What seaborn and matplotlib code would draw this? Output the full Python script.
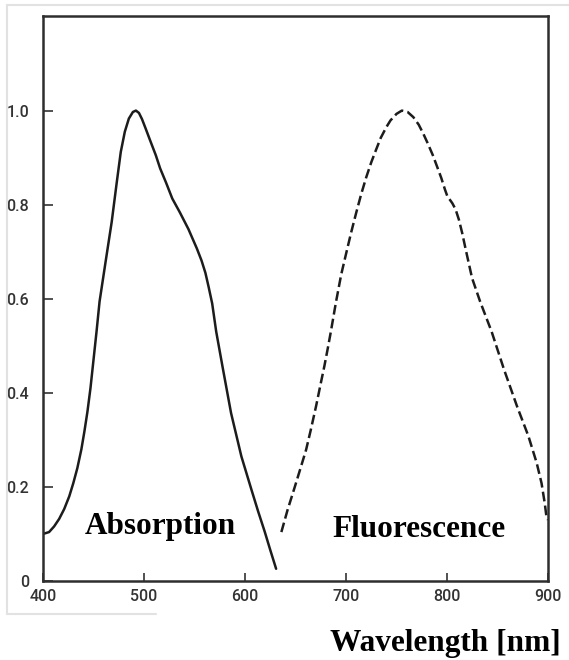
import matplotlib
matplotlib.use("Agg")
import matplotlib.pyplot as plt
import seaborn as sns
import pandas as pd
from matplotlib.lines import Line2D

# ---- data ----
abs_wavelength = [400, 406, 411, 416, 421, 426, 430, 434, 438, 441, 444, 447, 449.5, 453,
                  456, 462, 468, 473, 477, 481, 485, 489, 492, 495, 498, 501.6, 506,
                  511.7, 516, 521.8, 528, 535.4, 544, 552.3, 557, 560.8, 564, 567.5,
                  571.5, 577.8, 586.2, 596.4, 606.4, 613, 619.5, 625, 630.8]
abs_values = [0.10, 0.104, 0.116, 0.132, 0.153, 0.18, 0.208, 0.24, 0.28, 0.318, 0.36,
              0.41, 0.46, 0.53, 0.594, 0.679, 0.763, 0.847, 0.912, 0.955, 0.983, 0.997,
              1.0, 0.995, 0.982, 0.962, 0.937, 0.905, 0.877, 0.847, 0.813, 0.784, 0.748,
              0.707, 0.681, 0.655, 0.625, 0.590, 0.530, 0.455, 0.357, 0.265, 0.194,
              0.148, 0.105, 0.066, 0.026]

fl_wavelength = [636, 642, 649, 655, 660.5, 665, 670.4, 675, 678.6, 682, 685, 690, 695.2,
                 700, 705, 710, 715, 720, 725, 730, 734.4, 740, 744, 750, 755.3, 761,
                 766.7, 772, 776.5, 781, 786, 790, 794.3, 798, 800.5, 803, 805.3, 808.5,
                 811.8, 815, 818.3, 824.8, 832.8, 844.2, 856.4, 869.4, 880.6, 888.8,
                 893.6, 896.8, 898.5, 900]
fl_values = [0.104, 0.15, 0.198, 0.24, 0.279, 0.32, 0.372, 0.42, 0.457, 0.495, 0.53,
             0.592, 0.651, 0.695, 0.74, 0.782, 0.822, 0.858, 0.89, 0.918, 0.942, 0.965,
             0.979, 0.993, 1.0, 0.997, 0.986, 0.97, 0.951, 0.93, 0.905, 0.882, 0.857,
             0.832, 0.817, 0.81, 0.803, 0.79, 0.768, 0.74, 0.707, 0.644, 0.594, 0.53,
             0.45, 0.371, 0.308, 0.251, 0.208, 0.165, 0.136, 0.13]

x_ticks = [400, 500, 600, 700, 800, 900]
x_tick_labels = ["400", "500", "600", "700", "800", "900"]
y_ticks = [0, 0.2, 0.4, 0.6, 0.8, 1.0]
y_tick_labels = ["0", "0.2", "0.4", "0.6", "0.8", "1.0"]

labels = ["Absorption", "Fluorescence"]
x_label = "Wavelength [nm]"

# ---- figure ----
sns.set_theme(style="white")
plt.rcParams["font.family"] = ["DejaVu Sans"]

fig = plt.figure(figsize=(5.69, 6.60), dpi=100)
ax = fig.add_axes([43 / 569, 79 / 660, (548 - 43) / 569, (581 - 16.5) / 660])

line_color = "#1c1c1c"
df_abs = pd.DataFrame({"wl": abs_wavelength, "val": abs_values})
df_fl = pd.DataFrame({"wl": fl_wavelength, "val": fl_values})

sns.lineplot(data=df_abs, x="wl", y="val", ax=ax, color=line_color, linewidth=1.8,
             estimator=None, sort=False)
sns.lineplot(data=df_fl, x="wl", y="val", ax=ax, color=line_color, linewidth=1.8,
             estimator=None, sort=False)
ax.lines[-1].set_dashes((3.9, 1.7))
for ln in ax.lines:
    ln.set_solid_joinstyle("round")
    ln.set_dash_joinstyle("round")

ax.set_xlim(400, 900)
ax.set_ylim(0, 1.2)
ax.set_xticks(x_ticks)
ax.set_xticklabels(x_tick_labels)
ax.set_yticks(y_ticks)
ax.set_yticklabels(y_tick_labels)
ax.set_xlabel("")
ax.set_ylabel("")

for lab in ax.get_xticklabels() + ax.get_yticklabels():
    lab.set_fontfamily("Roboto")
    lab.set_fontsize(11.5)
    lab.set_fontweight("medium")
    lab.set_color("#333333")

ax.tick_params(axis="x", direction="in", length=6, width=1.2, color="#333333", pad=6,
               bottom=True, top=False)
ax.tick_params(axis="y", direction="in", length=7, width=1.2, color="#333333", pad=10,
               left=True, right=False)

for side in ["left", "right", "top", "bottom"]:
    ax.spines[side].set_visible(True)
    ax.spines[side].set_color("#2e2e2e")
    ax.spines[side].set_linewidth(1.8)

text_font = dict(family="Liberation Serif", weight="bold", size=22.5, color="black")
ax.text(441, 0.10, labels[0], ha="left", va="baseline", **text_font)
ax.text(686.5, 0.093, labels[1], ha="left", va="baseline", **text_font)
fig.text(561 / 569, (660 - 650.7) / 660, x_label, ha="right", va="baseline", **text_font)

# faint frame of the scanned image
frame_kw = dict(color="#e2e2e2", linewidth=1.5, transform=fig.transFigure)
fig.add_artist(Line2D([7 / 569, 7 / 569], [1 - 5 / 660, 1 - 614 / 660], **frame_kw))
fig.add_artist(Line2D([7 / 569, 1.0], [1 - 5 / 660, 1 - 5 / 660], **frame_kw))
fig.add_artist(Line2D([7 / 569, 156 / 569], [1 - 614 / 660, 1 - 614 / 660], **frame_kw))

fig.savefig("out.png", dpi=100)
